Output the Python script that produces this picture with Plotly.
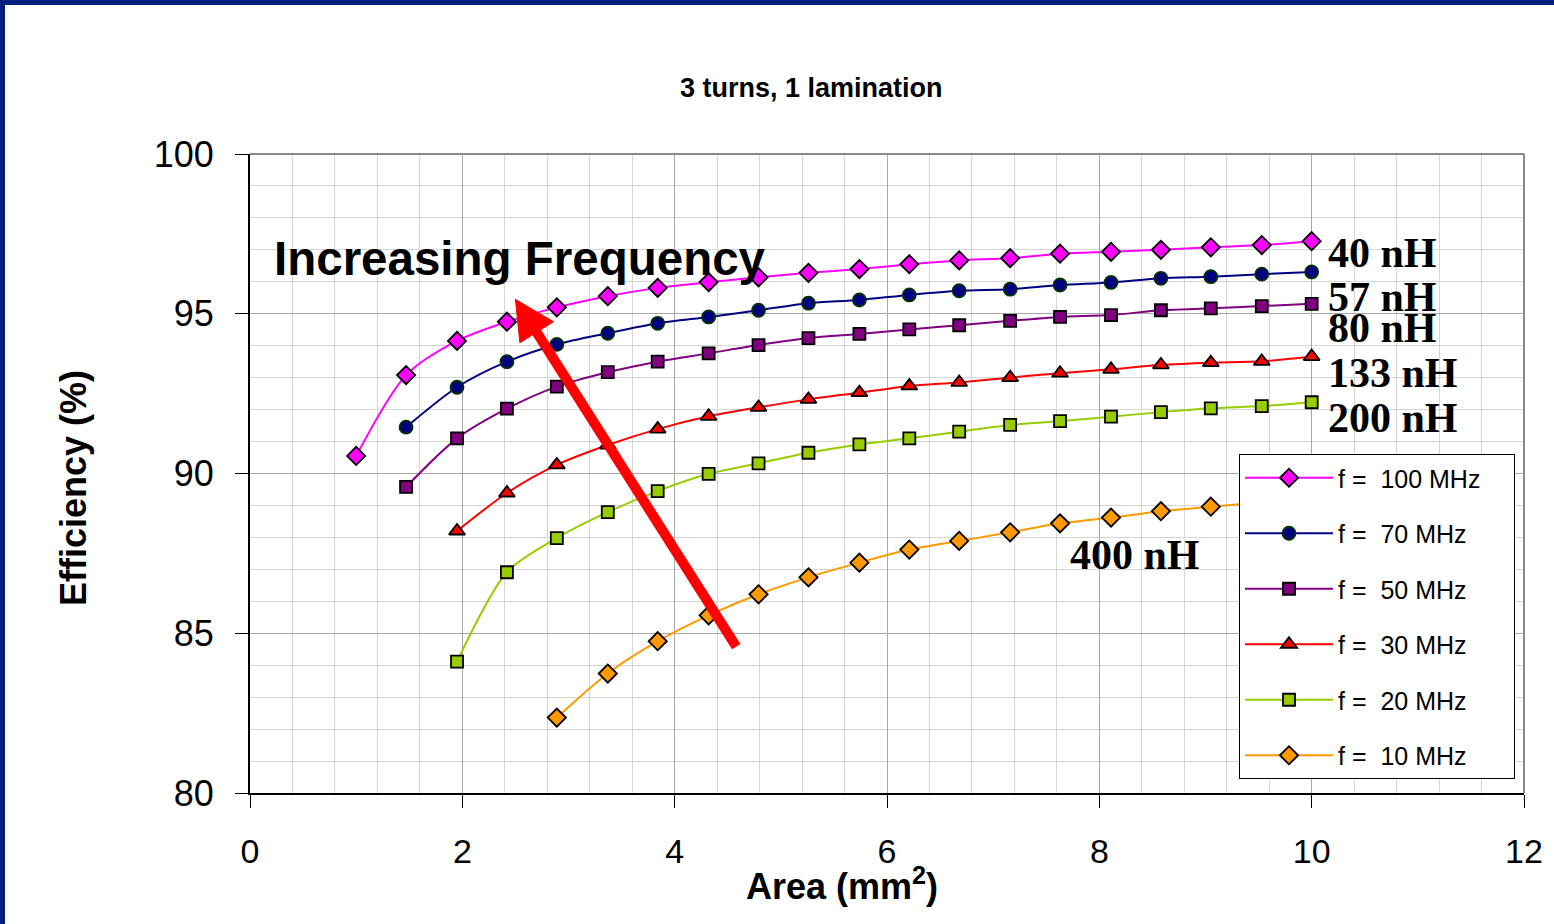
import plotly.graph_objects as go

# ---------------- data ----------------
area = [1.00, 1.47, 1.95, 2.42, 2.89, 3.37, 3.84, 4.32, 4.79, 5.26,
        5.74, 6.21, 6.68, 7.16, 7.63, 8.11, 8.58, 9.05, 9.53, 10.00]

eff_100 = [90.55, 93.08, 94.15, 94.75, 95.20, 95.55, 95.81, 95.99, 96.14, 96.28,
           96.40, 96.55, 96.67, 96.74, 96.88, 96.94, 97.00, 97.08, 97.15, 97.27]
eff_70 = [91.45, 92.70, 93.50, 94.04, 94.39, 94.70, 94.90, 95.11, 95.33,
          95.43, 95.59, 95.72, 95.77, 95.90, 95.98, 96.11, 96.16, 96.24, 96.31]
eff_50 = [89.58, 91.10, 92.03, 92.72, 93.17, 93.50, 93.76, 94.02, 94.24,
          94.37, 94.51, 94.64, 94.78, 94.90, 94.96, 95.11, 95.17, 95.24, 95.31]
eff_30 = [88.20, 89.39, 90.27, 90.89, 91.39, 91.79, 92.07, 92.32, 92.53,
          92.74, 92.85, 93.00, 93.14, 93.26, 93.40, 93.47, 93.51, 93.66]
eff_20 = [84.11, 86.91, 87.98, 88.79, 89.45, 89.99, 90.32, 90.65, 90.91,
          91.10, 91.31, 91.52, 91.64, 91.78, 91.92, 92.04, 92.11, 92.23]
eff_10 = [82.36, 83.74, 84.75, 85.56, 86.22, 86.75, 87.21, 87.62, 87.89,
          88.16, 88.44, 88.62, 88.82, 88.96, 89.10, 89.25]

series_names = ["f = \u00a0100 MHz", "f = \u00a070 MHz", "f = \u00a050 MHz",
                "f = \u00a030 MHz", "f = \u00a020 MHz", "f = \u00a010 MHz"]
inductance_labels = ["40 nH", "57 nH", "80 nH", "133 nH", "200 nH", "400 nH"]
x_ticks = [0, 2, 4, 6, 8, 10, 12]
y_ticks = [80, 85, 90, 95, 100]

# ---------------- layout constants ----------------
W, H = 1554, 924
ML, MR, MT, MB = 250, 30, 154, 131
PW, PH = W - ML - MR, H - MT - MB

def px_x(p):  # pixel -> paper x
    return (p - ML) / PW

def px_y(p):  # pixel -> paper y
    return (H - MB - p) / PH

SANS = "Liberation Sans, Arial, sans-serif"
SERIF = "Liberation Serif, Times New Roman, serif"

styles = [
    dict(line="#FF00FF", fill="#FF00FF", edge="#000000", symbol="diamond", size=14),
    dict(line="#000080", fill="#000080", edge="#003300", symbol="circle", size=13),
    dict(line="#800080", fill="#800080", edge="#000000", symbol="square", size=12),
    dict(line="#FF0000", fill="#FF0000", edge="#000000", symbol="triangle-up", size=14),
    dict(line="#99CC00", fill="#99CC00", edge="#000000", symbol="square", size=12),
    dict(line="#FF9900", fill="#FF9900", edge="#000000", symbol="diamond", size=14),
]
ys = [eff_100, eff_70, eff_50, eff_30, eff_20, eff_10]

PAD = "\u00a0" * 4
fig = go.Figure()
for i, (name, y, st) in enumerate(zip(series_names, ys, styles)):
    xs = area[len(area) - len(y):]
    fig.add_trace(go.Scatter(
        x=xs, y=y, name=name + PAD, mode="lines+markers",
        legendgroup=f"g{i}",
        line=dict(color=st["line"], width=2, shape="spline", smoothing=0.8),
        marker=dict(symbol=st["symbol"], size=st["size"], color=st["fill"],
                    line=dict(color=st["edge"], width=1.8)),
    ))

grid_light = "#d6d6d6"
grid_dark = "#a8a8a8"

fig.update_xaxes(
    range=[0, 12], tickvals=x_ticks, ticktext=[str(v) for v in x_ticks],
    showgrid=True, gridcolor=grid_dark, gridwidth=1,
    minor=dict(dtick=0.4, tick0=0, showgrid=True, gridcolor=grid_light, gridwidth=1, ticks=""),
    showline=True, linecolor="#000000", linewidth=2,
    ticks="outside", ticklen=13, tickwidth=1, tickcolor="#000000",
    tickfont=dict(family=SANS, size=34, color="#000000"),
    ticklabelstandoff=14, zeroline=False,
)
fig.update_yaxes(
    range=[80, 100], tickvals=y_ticks, ticktext=[str(v) for v in y_ticks],
    showgrid=True, gridcolor=grid_dark, gridwidth=1,
    minor=dict(dtick=1, tick0=80, showgrid=True, gridcolor=grid_light, gridwidth=1, ticks=""),
    showline=True, linecolor="#000000", linewidth=2,
    ticks="outside", ticklen=13, tickwidth=1, tickcolor="#000000",
    tickfont=dict(family=SANS, size=36, color="#000000"),
    ticklabelstandoff=14, zeroline=False,
)

annotations = [
    dict(text="<b>3 turns, 1 lamination</b>", x=px_x(811), y=px_y(88),
         font=dict(family=SANS, size=27, color="#000000")),
    dict(text="<b>Efficiency (%)</b>", x=px_x(73), y=px_y(488), textangle=-90,
         font=dict(family=SANS, size=36, color="#000000")),
    dict(text="<b>Area (mm<sup>2</sup>)</b>", x=px_x(842), y=px_y(884),
         font=dict(family=SANS, size=36, color="#000000")),
    dict(text="<b>Increasing Frequency</b>", x=px_x(272), y=px_y(258), xanchor="left",
         font=dict(family=SANS, size=47.5, color="#000000")),
]
nh_pos = [(1326, 253), (1326, 297), (1326, 328), (1326, 373), (1326, 418), (1068, 555)]
for lab, (lx, ly) in zip(inductance_labels, nh_pos):
    annotations.append(dict(text=f"<b>{lab}</b>", x=px_x(lx), y=px_y(ly), xanchor="left",
                            font=dict(family=SERIF, size=42, color="#000000")))
for a in annotations:
    a.setdefault("xanchor", "center")
    a.update(xref="paper", yref="paper", yanchor="middle", showarrow=False)

shapes = [
    # plot area top/right border (gray)
    dict(type="line", xref="paper", yref="paper", x0=0, x1=1, y0=1, y1=1,
         line=dict(color="#8a8a8a", width=2), layer="above"),
    dict(type="line", xref="paper", yref="paper", x0=1, x1=1, y0=0, y1=1,
         line=dict(color="#8a8a8a", width=2), layer="above"),
    # red arrow: shaft + head (annotation graphics, data coords)
    dict(type="line", xref="x", yref="y", x0=4.58, y0=84.58, x1=2.70, y1=94.42,
         line=dict(color="#FF0000", width=10), layer="above"),
    dict(type="path", xref="x", yref="y",
         path="M 2.50,95.45 L 2.542,94.09 L 2.859,94.75 Z",
         fillcolor="#FF0000", line=dict(color="#FF0000", width=1), layer="above"),
    # dark blue slide frame (top and left)
    dict(type="rect", xref="paper", yref="paper",
         x0=px_x(0), x1=px_x(5), y0=px_y(H), y1=px_y(0),
         fillcolor="#00207F", line=dict(width=0), layer="above"),
    dict(type="rect", xref="paper", yref="paper",
         x0=px_x(0), x1=px_x(W), y0=px_y(5), y1=px_y(0),
         fillcolor="#00207F", line=dict(width=0), layer="above"),
]

fig.update_layout(
    width=W, height=H,
    margin=dict(l=ML, r=MR, t=MT, b=MB, pad=0),
    paper_bgcolor="#FFFFFF", plot_bgcolor="#FFFFFF",
    showlegend=True,
    legend=dict(
        x=px_x(1239), y=px_y(454), xanchor="left", yanchor="top",
        bgcolor="#FFFFFF", bordercolor="#000000", borderwidth=1,
        font=dict(family=SANS, size=25, color="#000000"),
        tracegroupgap=20, itemwidth=88, traceorder="grouped",
    ),
    annotations=annotations,
    shapes=shapes,
)

fig.write_html("out.html", config={"displayModeBar": False},
               post_script="document.body.style.margin='0';")
